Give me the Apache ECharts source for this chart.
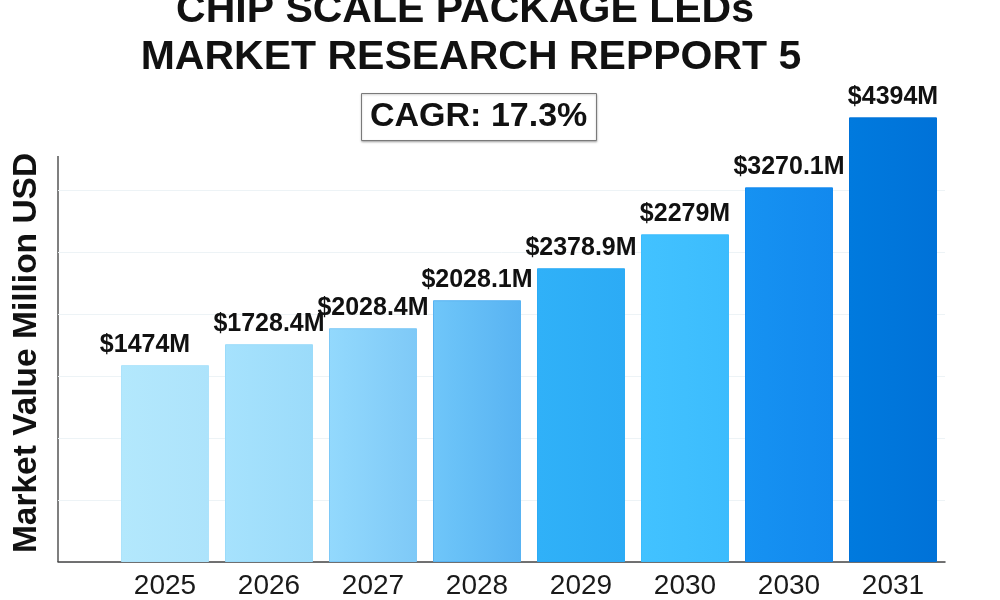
<!DOCTYPE html>
<html>
<head>
<meta charset="utf-8">
<title>Chip Scale Package LEDs</title>
<script src="https://cdn.jsdelivr.net/npm/echarts@6/dist/echarts.min.js"></script>
<style>
  html, body { margin: 0; padding: 0; background: #fff; }
  #chart { width: 1000px; height: 600px; }
</style>
</head>
<body>
<div id="chart"></div>
<script>
// years on the x axis (the picture repeats 2030)
const years = ['2025', '2026', '2027', '2028', '2029', '2030', '2030', '2031']
const barHeights = [1589, 1758, 1887, 2113, 2371, 2645, 3024, 3589]
// values printed above the bars
const printedValues = [1474, 1728.4, 2028.4, 2028.1, 2378.9, 2279, 3270.1, 4394]
// bar colours, left edge -> right edge
const barColors = [
  ['#b3e8fd', '#ade3fb'],
  ['#a6e2fd', '#9bdbfa'],
  ['#93d9fd', '#7ec9f7'],
  ['#6fc6f9', '#58b3f2'],
  ['#30b1f8', '#2cabf5'],
  ['#42c2ff', '#3cbcfd'],
  ['#1692f2', '#1289ee'],
  ['#007ade', '#0072d8']
]
const cagr = 'CAGR: 17.3%'

const chart = echarts.init(document.getElementById('chart'))

const font = '"Liberation Sans", Arial, sans-serif'

const option = {
  backgroundColor: '#fff',
  animation: false,
  grid: [
    // background grid: baseline + faint gridlines
    { left: 58, right: 55, top: 190, bottom: 38 },
    // bars
    { left: 113, right: 55, top: 116, bottom: 38 }
  ],
  xAxis: [
    {
      gridIndex: 0, type: 'value', min: 0, max: 1,
      axisLine: { show: true, lineStyle: { color: '#444', width: 1.5 } },
      axisTick: { show: false }, axisLabel: { show: false }, splitLine: { show: false }
    },
    {
      gridIndex: 1, type: 'category', data: years,
      axisLine: { show: false }, axisTick: { show: false },
      axisLabel: { fontSize: 28, color: '#1a1a1a', fontFamily: font, margin: 10 }
    }
  ],
  yAxis: [
    {
      gridIndex: 0, type: 'value', min: 0, max: 3000, interval: 500,
      axisLine: { show: false }, axisTick: { show: false }, axisLabel: { show: false },
      splitLine: { lineStyle: { color: '#edf3f6', width: 1 } }
    },
    {
      gridIndex: 1, type: 'value', min: 0, max: 3600, interval: 600,
      show: false, splitLine: { show: false }
    }
  ],
  series: [{
    type: 'bar',
    xAxisIndex: 1,
    yAxisIndex: 1,
    barWidth: 88,
    data: barHeights.map((h, i) => ({
      value: h,
      itemStyle: {
        color: new echarts.graphic.LinearGradient(0, 0, 1, 0, [
          { offset: 0, color: barColors[i][0] },
          { offset: 1, color: barColors[i][1] }
        ]),
        borderColor: barColors[i][1],
        borderWidth: 1
      },
      label: { formatter: '$' + printedValues[i] + 'M', offset: i === 0 ? [-20, 0] : [0, 0] }
    })),
    label: {
      show: true,
      position: 'top',
      distance: 8,
      fontSize: 25,
      fontWeight: 'bold',
      color: '#111',
      fontFamily: font
    }
  }],
  title: [{
    text: cagr,
    left: 361,
    top: 93,
    padding: [6, 9, 6, 9],
    borderColor: '#7a7a7a',
    borderWidth: 1,
    shadowColor: 'rgba(0,0,0,0.25)',
    shadowBlur: 2,
    shadowOffsetY: 1,
    backgroundColor: '#fff',
    textStyle: { fontSize: 34, fontWeight: 'bold', color: '#111', fontFamily: font, lineHeight: 36 }
  }],
  graphic: [
    {
      type: 'text', x: 465, y: 11,
      style: {
        text: 'CHIP SCALE PACKAGE LEDs', align: 'center', verticalAlign: 'middle',
        fontSize: 41, fontWeight: 'bold', fill: '#111', fontFamily: font
      }
    },
    {
      type: 'text', x: 471, y: 58,
      style: {
        text: 'MARKET RESEARCH REPPORT 5', align: 'center', verticalAlign: 'middle',
        fontSize: 41, fontWeight: 'bold', fill: '#111', fontFamily: font
      }
    },
    {
      type: 'text', x: 27, y: 353, rotation: Math.PI / 2,
      style: {
        text: 'Market Value Million USD', align: 'center', verticalAlign: 'middle',
        fontSize: 33.5, fontWeight: 'bold', fill: '#111', fontFamily: font
      }
    },
    {
      type: 'line',
      shape: { x1: 58, y1: 156, x2: 58, y2: 562 },
      style: { stroke: '#555', lineWidth: 1.5 }
    }
  ]
}

chart.setOption(option)
</script>
</body>
</html>
